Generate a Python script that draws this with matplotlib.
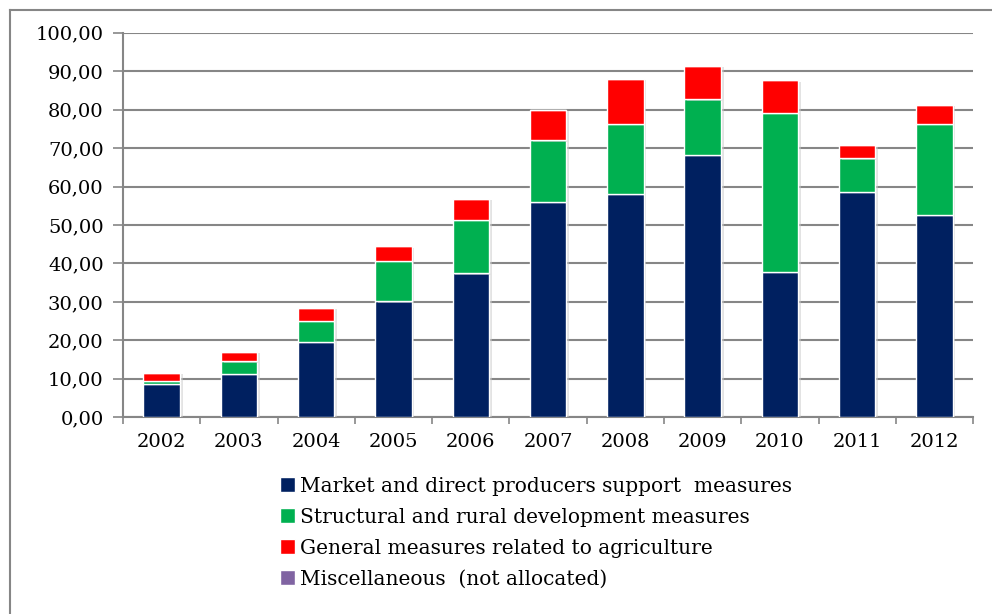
import matplotlib
matplotlib.use('Agg')
import matplotlib.pyplot as plt
import matplotlib.patheffects as pe
from matplotlib.lines import Line2D
from matplotlib.patches import Patch
import numpy as np

years = ['2002', '2003', '2004', '2005', '2006', '2007', '2008', '2009', '2010', '2011', '2012']
market = [8.7, 11.3, 19.7, 30.2, 37.4, 56.1, 58.1, 68.3, 37.9, 58.7, 52.7]
structural = [0.8, 3.3, 5.4, 10.5, 13.9, 15.9, 18.2, 14.4, 41.3, 8.6, 23.6]
general = [2.0, 2.5, 3.3, 3.8, 5.5, 8.0, 11.7, 8.7, 8.4, 3.4, 5.0]
misc = [0, 0, 0, 0, 0, 0, 0, 0, 0, 0, 0]

labels = ['Market and direct producers support  measures',
          'Structural and rural development measures',
          'General measures related to agriculture',
          'Miscellaneous  (not allocated)']
colors = ['#002060', '#00B050', '#FF0000', '#8064A2']

plt.rcParams['font.family'] = ['DejaVu Serif']

fig = plt.figure(figsize=(9.92, 6.14), dpi=100)
ax = fig.add_axes([0.124, 0.3204, 0.857, 0.6263])

x = np.arange(len(years))
bottom = np.zeros(len(years))
shadow = [pe.SimplePatchShadow(offset=(2, -1), shadow_rgbFace='#c8c8c8', alpha=0.5), pe.Normal()]
for vals, c in zip([market, structural, general, misc], colors):
    ax.bar(x, vals, 0.47, bottom=bottom, color=c, edgecolor='white', linewidth=1.0,
           zorder=3, path_effects=shadow)
    bottom += np.array(vals)

ax.set_ylim(0, 100)
ax.set_xlim(-0.5, len(years) - 0.5)
ax.set_yticks(np.arange(0, 101, 10))
ax.set_yticklabels(['%d,00' % v for v in range(0, 101, 10)], fontsize=14)
ax.set_xticks(x)
ax.set_xticklabels(years, fontsize=14)
ax.set_xticks(np.arange(-0.5, len(years)), minor=True)
ax.tick_params(axis='x', which='major', length=0, pad=11)
ax.tick_params(axis='x', which='minor', length=5, width=1.2, color='#868686')
ax.tick_params(axis='y', length=7, width=1.2, color='#868686', pad=7)
ax.yaxis.grid(True, color='#868686', linewidth=1.5, zorder=0)
ax.set_axisbelow(True)
for s in ['top', 'right']:
    ax.spines[s].set_visible(False)
for s in ['left', 'bottom']:
    ax.spines[s].set_color('#868686')
    ax.spines[s].set_linewidth(1.5)

handles = [Patch(facecolor=c, edgecolor='white') for c in colors]
fig.legend(handles, labels, loc='upper left', bbox_to_anchor=(0.274, 0.237),
           frameon=False, fontsize=14.5, handlelength=0.75, handleheight=0.75,
           handletextpad=0.25, labelspacing=0.6, borderaxespad=0)

# outer chart frame
fig.add_artist(Line2D([10 / 992, 1], [1 - 10 / 614, 1 - 10 / 614], color='#868686', lw=1.5))
fig.add_artist(Line2D([10 / 992, 10 / 992], [0, 1 - 10 / 614], color='#868686', lw=1.5))

fig.savefig('out.png', dpi=100)
